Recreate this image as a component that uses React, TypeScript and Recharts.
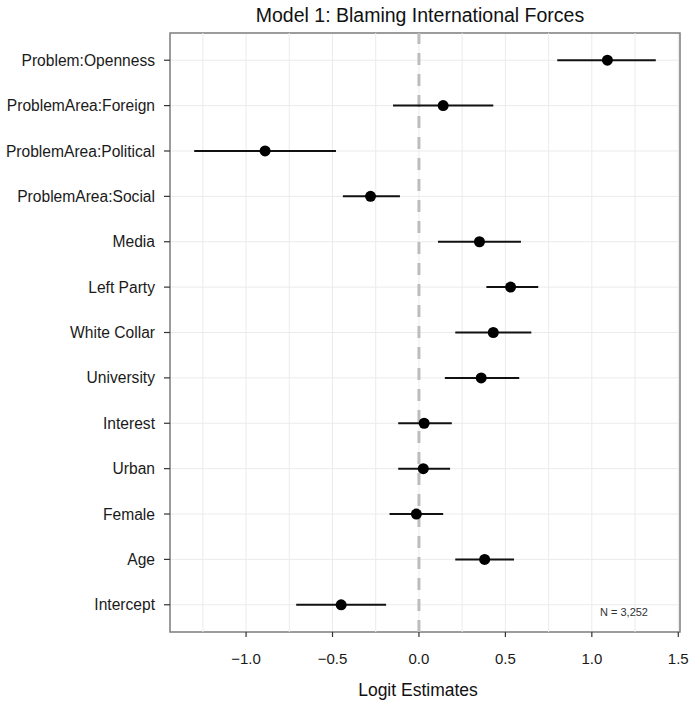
import React from 'react';
import {
    ScatterChart,
    Scatter,
    XAxis,
    YAxis,
    CartesianGrid,
    ErrorBar,
    ReferenceLine,
    ReferenceArea,
} from 'recharts';

// coefficient names, top to bottom
const terms = [
    'Problem:Openness',
    'ProblemArea:Foreign',
    'ProblemArea:Political',
    'ProblemArea:Social',
    'Media',
    'Left Party',
    'White Collar',
    'University',
    'Interest',
    'Urban',
    'Female',
    'Age',
    'Intercept',
];
const estimates = [1.09, 0.14, -0.89, -0.28, 0.35, 0.53, 0.43, 0.36, 0.03, 0.025, -0.015, 0.38, -0.45];
const lower = [0.8, -0.15, -1.3, -0.44, 0.11, 0.39, 0.21, 0.15, -0.12, -0.12, -0.17, 0.21, -0.71];
const upper = [1.37, 0.43, -0.48, -0.11, 0.59, 0.69, 0.65, 0.58, 0.19, 0.18, 0.14, 0.55, -0.19];

const xTicks = [-1, -0.5, 0, 0.5, 1, 1.5];
const xMinorTicks = [-1.25, -0.75, -0.25, 0.25, 0.75, 1.25];
const sampleNote = 'N = 3,252';

const FONT = '"Liberation Sans", Arial, Helvetica, sans-serif';
const GRID = '#ebebeb';

const data = terms.map((name, i) => ({
    name,
    row: i,
    est: estimates[i],
    err: [estimates[i] - lower[i], upper[i] - estimates[i]],
}));

const Dot = (props: any) => {
    const { cx, cy } = props;
    return <circle cx={cx} cy={cy} r={5.5} fill="#000" />;
};

export default function App() {
    return (
        <div style={{ position: 'absolute', left: 0, top: 0, width: 690, height: 701, background: '#fff', fontFamily: FONT }}>
            <div style={{ position: 'absolute', top: 4, left: 160, width: 520, textAlign: 'center', fontSize: 19.5, lineHeight: '22px', color: '#111' }}>
                Model 1: Blaming International Forces
            </div>
            <ScatterChart width={690} height={701} margin={{ top: 33, right: 10, bottom: 0, left: 0 }}>
                <CartesianGrid stroke={GRID} strokeWidth={1} />
                {xMinorTicks.map((v) => (
                    <ReferenceLine key={v} x={v} stroke={GRID} strokeWidth={1} />
                ))}
                <XAxis
                    type="number"
                    dataKey="est"
                    domain={[-1.44, 1.51]}
                    ticks={xTicks}
                    allowDataOverflow
                    tickFormatter={(v: number) => (v < 0 ? '\u2212' + Math.abs(v).toFixed(1) : v.toFixed(1))}
                    height={69}
                    axisLine={false}
                    tickSize={5}
                    tickMargin={16}
                    tickLine={{ stroke: '#333', strokeWidth: 1.2 }}
                    tick={{ fill: '#1a1a1a', fontSize: 15, fontFamily: FONT }}
                />
                <YAxis
                    type="number"
                    dataKey="row"
                    domain={[-0.6, 12.6]}
                    ticks={terms.map((_, i) => i)}
                    interval={0}
                    reversed
                    allowDataOverflow
                    tickFormatter={(i: number) => terms[i]}
                    width={170}
                    axisLine={false}
                    tickSize={6}
                    tickMargin={9}
                    tickLine={{ stroke: '#333', strokeWidth: 1.2 }}
                    tick={{ fill: '#1a1a1a', fontSize: 15.6, fontFamily: FONT }}
                />
                <ReferenceLine x={0} stroke="#bdbdbd" strokeWidth={3} strokeDasharray="12 9" />
                <ReferenceArea x1={-1.44} x2={1.51} y1={-0.6} y2={12.6} fill="none" stroke="#7f7f7f" strokeWidth={1.5} fillOpacity={0} />
                <Scatter data={data} shape={<Dot />} isAnimationActive={false}>
                    <ErrorBar dataKey="err" direction="x" width={0} stroke="#111" strokeWidth={2} isAnimationActive={false} />
                </Scatter>
            </ScatterChart>
            <div style={{ position: 'absolute', top: 605, left: 594, width: 60, textAlign: 'center', fontSize: 11, lineHeight: '14px', color: '#333' }}>
                {sampleNote}
            </div>
            <div style={{ position: 'absolute', top: 679, left: 158, width: 520, textAlign: 'center', fontSize: 17.5, lineHeight: '22px', color: '#111' }}>
                Logit Estimates
            </div>
        </div>
    );
}
